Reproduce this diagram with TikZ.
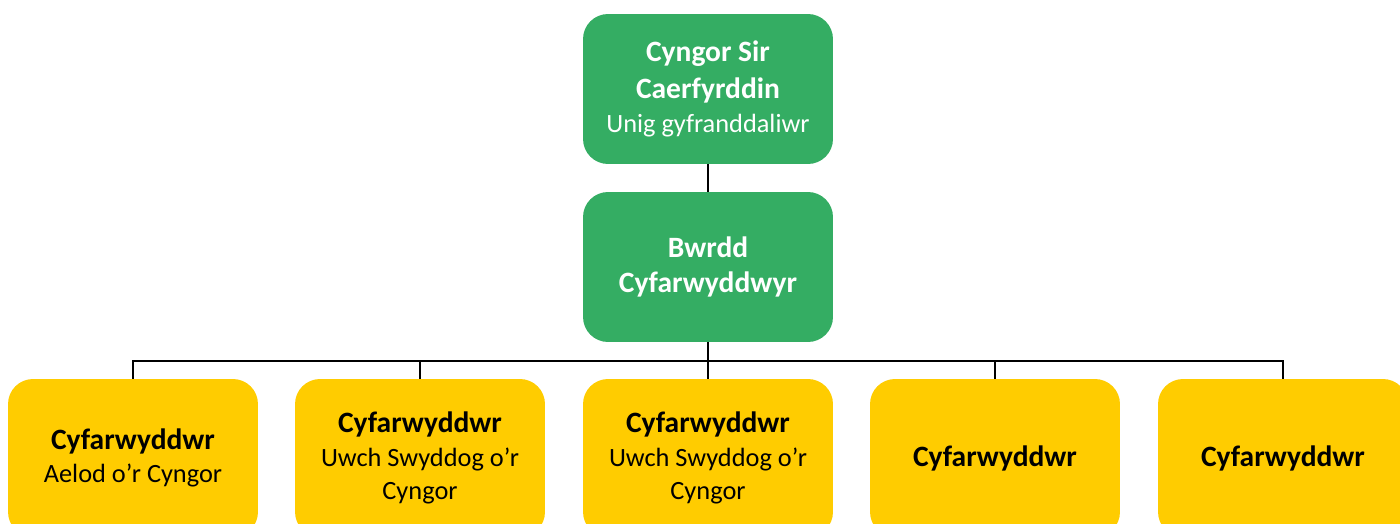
\documentclass[tikz,border=0pt]{standalone}
\usepackage{fontspec}
\setmainfont{Carlito}
\usepackage{tikz}

\definecolor{boardgreen}{HTML}{34AD63}
\definecolor{directoryellow}{HTML}{FFCC00}

\newcommand{\headline}[1]{{\fontsize{16.8}{19}\selectfont\bfseries #1}}

\begin{document}
\begin{tikzpicture}[x=0.02cm,y=-0.02cm]

	\tikzstyle org box=[rounded corners=0.5cm, minimum width=5cm, minimum height=3cm, align=center, font=\fontsize{15}{19}\selectfont];
	\tikzstyle board box=[org box, fill=boardgreen, text=white];
	\tikzstyle director box=[org box, minimum height=3.16cm, fill=directoryellow, text=black];
	\tikzstyle link lines=[line width=1.2pt];

	\useasboundingbox (0,0) rectangle (1400,524);

	\node[board box] (council) at (708,89) {\headline{Cyngor Sir}\\[2pt] \headline{Caerfyrddin}\\ Unig gyfranddaliwr};
	\node[board box] (board) at (708,267) {\headline{Bwrdd}\\[1pt] \headline{Cyfarwyddwyr}};

	\node[director box] (dir1) at (133,458) {\headline{Cyfarwyddwr}\\ Aelod o’r Cyngor};
	\node[director box] (dir2) at (420,458) {\headline{Cyfarwyddwr}\\ Uwch Swyddog o’r\\ Cyngor};
	\node[director box] (dir3) at (708,458) {\headline{Cyfarwyddwr}\\ Uwch Swyddog o’r\\ Cyngor};
	\node[director box] (dir4) at (995,458) {\headline{Cyfarwyddwr}};
	\node[director box] (dir5) at (1283,458) {\headline{Cyfarwyddwr}};

	\coordinate (bus) at (708,361);

	\draw[link lines] (council.south) -- (board.north);
	\draw[link lines] (board.south) -- (bus);
		\foreach \n in {dir1,dir2,dir3,dir4,dir5}
			\draw[link lines] (bus) -| (\n.north);

\end{tikzpicture}
\end{document}
